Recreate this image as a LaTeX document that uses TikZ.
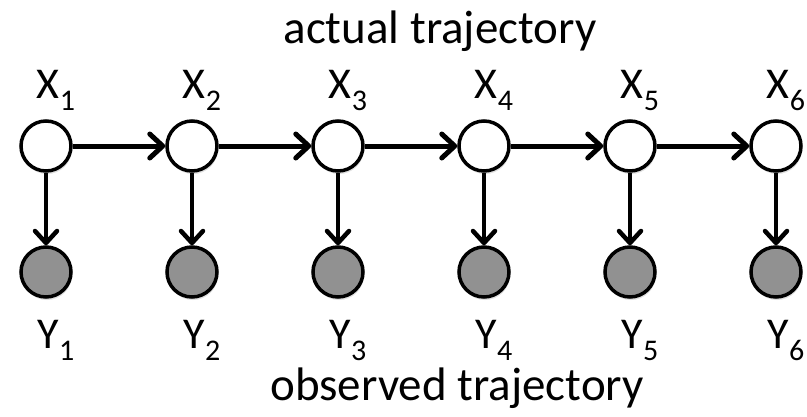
\documentclass[tikz,border=0pt]{standalone}
\usepackage{fontspec}
\setmainfont{Carlito}
\usetikzlibrary{arrows.meta,shadows}

\newcommand{\varlbl}[2]{{\fontsize{44}{44}\selectfont #1}\raisebox{-12pt}{\fontsize{30}{30}\selectfont #2}}

\begin{document}
\begin{tikzpicture}[
  x=1pt, y=-1pt,
  state/.style={circle, draw, line width=3.5pt, minimum size=50pt, inner sep=0pt, fill=white,
    drop shadow={opacity=0.25, shadow xshift=1pt, shadow yshift=-3pt}},
  obs/.style={state, fill=black!43},
  lbl/.style={inner sep=0pt, anchor=base},
  ttl/.style={inner sep=0pt, anchor=base, font=\fontsize{47}{47}\selectfont},
  trans/.style={line width=5pt, -{Straight Barb[length=13pt, width=24pt, line cap=round, line join=round]}},
  emit/.style={line width=4.5pt, -{Straight Barb[length=12pt, width=22pt, line cap=round, line join=round]}}
]
\useasboundingbox (0,0) rectangle (807,416);

\node[ttl] (actual) at (440, 43) {actual trajectory};
\node[ttl] (observed) at (457, 400) {observed trajectory};

\foreach \i in {1,...,6} {
  \node[state] (x\i) at ({46+146*(\i-1)}, 146) {};
  \node[obs] (y\i) at ({46+146*(\i-1)}, 272) {};
  \node[lbl] (lx\i) at ({56+146*(\i-1)}, 98) {\varlbl{X}{\i}};
  \node[lbl] (ly\i) at ({56+146*(\i-1)}, 348) {\varlbl{Y}{\i}};
  \draw[emit] (x\i) -- (y\i);
}
\foreach \i [evaluate=\i as \j using int(\i+1)] in {1,...,5}
  \draw[trans] (x\i) -- (x\j);
\end{tikzpicture}
\end{document}
